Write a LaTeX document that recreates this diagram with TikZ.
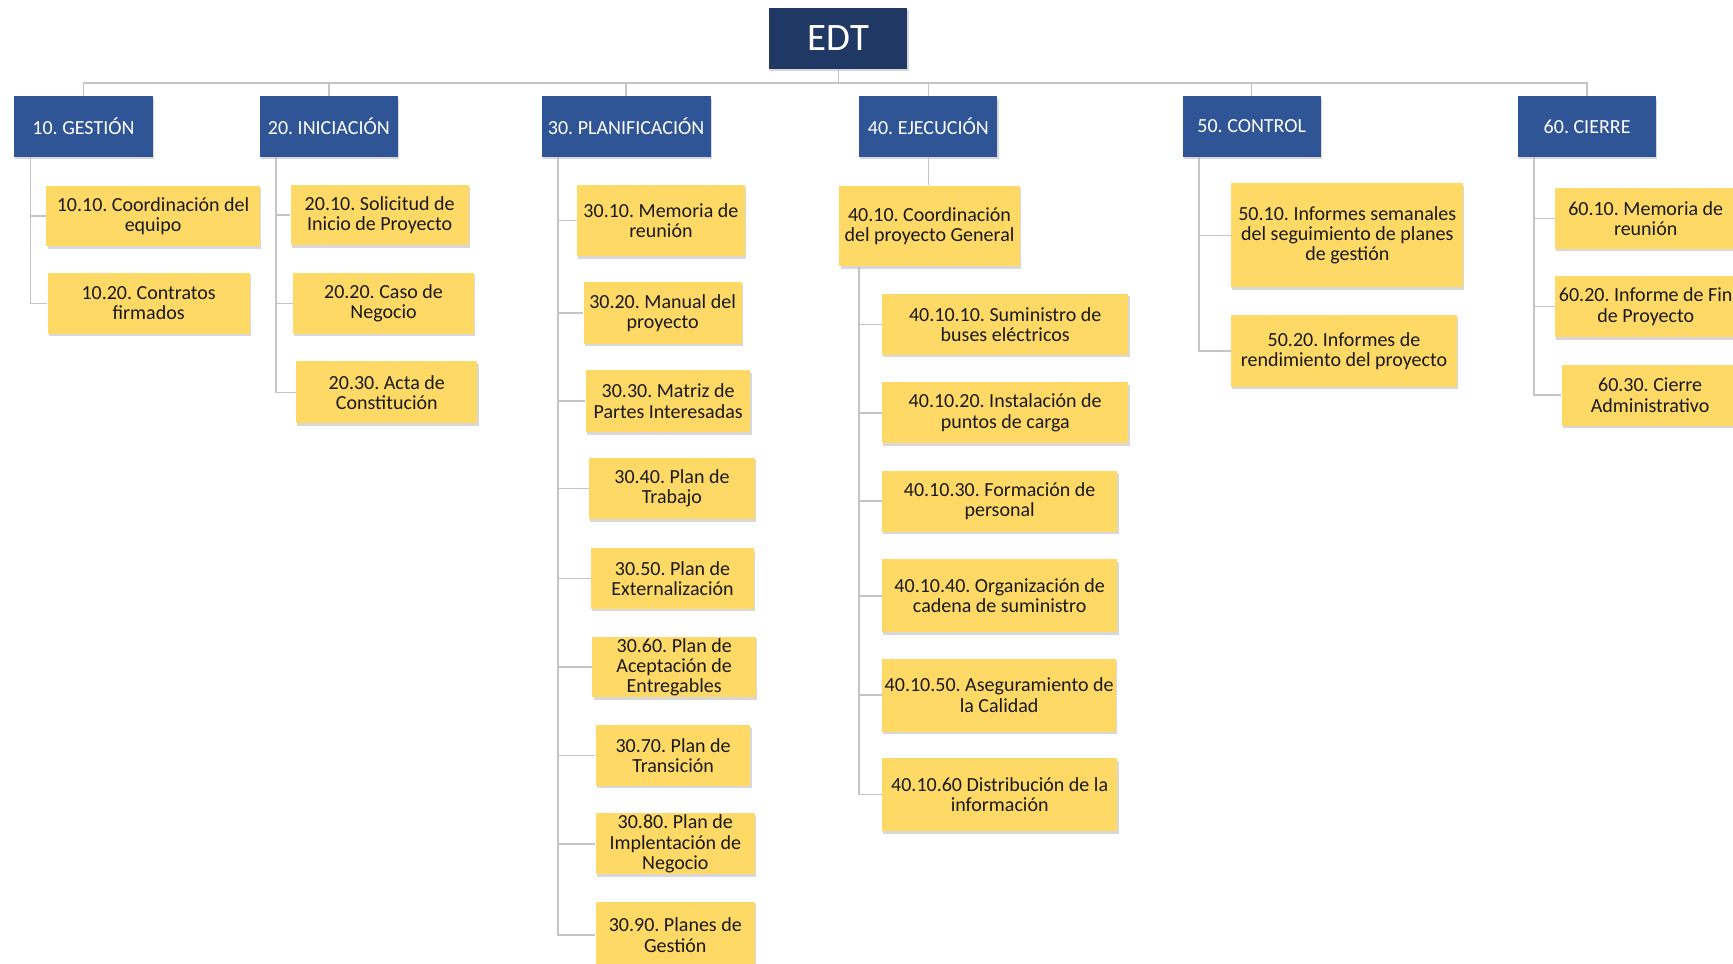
\documentclass[tikz,border=0pt]{standalone}
\usepackage{fontspec}
\setmainfont{Carlito}
\usetikzlibrary{shadows}
\definecolor{edtnavy}{HTML}{203864}
\definecolor{phaseblue}{HTML}{2F5597}
\definecolor{taskgold}{HTML}{FFD966}
\definecolor{linkgray}{HTML}{C4C4C4}
\newcommand{\leaf}[6]{\node[task,minimum width=#4cm,minimum height=#5cm] (#1) at (#2,#3) {#6};}

\begin{document}
\frenchspacing
\begin{tikzpicture}[font=\fontsize{10.3}{10.4}\selectfont,
  link/.style={linkgray,line width=.8pt},
  box/.style={inner xsep=1pt,inner ysep=0pt,align=center,
    drop shadow={shadow xshift=.02cm,shadow yshift=-.045cm,opacity=.3}},
  phase/.style={box,fill=phaseblue,text=white,minimum width=2.5cm,minimum height=1.1cm},
  task/.style={box,fill=taskgold,text=black!90}]
  \useasboundingbox[fill=white] (0,0) rectangle (31.36,-17.44);
  % root and phases
  \node[box,fill=edtnavy,text=white,font=\fontsize{20}{20}\selectfont,
    minimum width=2.5cm,minimum height=1.1cm] (edt) at (15.17,-.69) {EDT};
  \node[phase] (g10) at (1.51,-2.29) {10. GESTIÓN};
  \node[phase] (g20) at (5.95,-2.29) {20. INICIACIÓN};
  \node[phase,minimum width=3.06cm] (g30) at (11.33,-2.29) {30. PLANIFICACIÓN};
  \node[phase] (g40) at (16.8,-2.29) {40. EJECUCIÓN};
  \node[phase] (g50) at (22.65,-2.29) {50. CONTROL};
  \node[phase] (g60) at (28.72,-2.29) {60. CIERRE};
  \coordinate (bus) at (0,-1.5);
  % work packages
  \leaf{a1010}{2.77}{-3.91}{3.86}{1.1}{10.10. Coordinación del\\equipo}
  \leaf{a1020}{2.69}{-5.49}{3.66}{1.1}{10.20. Contratos\\firmados}
  \leaf{b2010}{6.87}{-3.89}{3.22}{1.1}{20.10. Solicitud de\\Inicio de Proyecto}
  \leaf{b2020}{6.94}{-5.49}{3.28}{1.1}{20.20. Caso de\\Negocio}
  \leaf{b2030}{7.0}{-7.1}{3.28}{1.12}{20.30. Acta de\\Constitución}
  \leaf{c3010}{11.96}{-3.99}{3.04}{1.3}{30.10. Memoria de\\reunión}
  \leaf{c3020}{11.99}{-5.66}{2.86}{1.12}{30.20. Manual del\\proyecto}
  \leaf{c3030}{12.09}{-7.26}{2.98}{1.12}{30.30. Matriz de\\Partes Interesadas}
  \leaf{c3040}{12.16}{-8.84}{3.0}{1.12}{30.40. Plan de\\Trabajo}
  \leaf{c3050}{12.17}{-10.47}{2.94}{1.1}{30.50. Plan de\\Externalización}
  \leaf{c3060}{12.2}{-12.07}{2.96}{1.1}{30.60. Plan de\\Aceptación de\\Entregables}
  \leaf{c3070}{12.18}{-13.67}{2.8}{1.1}{30.70. Plan de\\Transición}
  \leaf{c3080}{12.22}{-15.27}{2.88}{1.1}{30.80. Plan de\\Implentación de\\Negocio}
  \leaf{c3090}{12.22}{-16.92}{2.88}{1.2}{30.90. Planes de\\Gestión}
  \leaf{d4010}{16.82}{-4.09}{3.26}{1.46}{40.10. Coordinación\\del proyecto General}
  \leaf{d401010}{18.19}{-5.87}{4.46}{1.1}{40.10.10. Suministro de\\buses eléctricos}
  \leaf{d401020}{18.19}{-7.47}{4.46}{1.1}{40.10.20. Instalación de\\puntos de carga}
  \leaf{d401030}{18.09}{-9.07}{4.26}{1.1}{40.10.30. Formación de\\personal}
  \leaf{d401040}{18.09}{-10.78}{4.26}{1.32}{40.10.40. Organización de\\cadena de suministro}
  \leaf{d401050}{18.08}{-12.58}{4.24}{1.32}{40.10.50. Aseguramiento de\\la Calidad}
  \leaf{d401060}{18.09}{-14.38}{4.26}{1.32}{40.10.60 Distribución de la\\información}
  \leaf{e5010}{24.38}{-4.26}{4.2}{1.88}{50.10. Informes semanales\\del seguimiento de planes\\de gestión}
  \leaf{e5020}{24.32}{-6.35}{4.08}{1.3}{50.20. Informes de\\rendimiento del proyecto}
  \leaf{f6010}{29.78}{-3.95}{3.28}{1.1}{60.10. Memoria de\\reunión}
  \leaf{f6020}{29.78}{-5.55}{3.28}{1.1}{60.20. Informe de Fin\\de Proyecto}
  \leaf{f6030}{29.86}{-7.15}{3.2}{1.1}{60.30. Cierre\\Administrativo}
  % connectors
  \draw[link] (edt.south) -- (edt.south |- bus);
  \foreach \g in {g10,g20,g30,g40,g50,g60} \draw[link] (edt.south |- bus) -| (\g.north);
  \draw[link] (g40.south) -- (g40.south |- d4010.north);
  \foreach \p/\c in {g10/a1010,g10/a1020,g20/b2010,g20/b2020,g20/b2030,
    g30/c3010,g30/c3020,g30/c3030,g30/c3040,g30/c3050,g30/c3060,g30/c3070,g30/c3080,g30/c3090,
    g50/e5010,g50/e5020,g60/f6010,g60/f6020,g60/f6030}
    \draw[link] ([xshift=.3cm]\p.south west) |- (\c.west);
  \foreach \c in {d401010,d401020,d401030,d401040,d401050,d401060}
    \draw[link] ([xshift=.36cm]d4010.south west) |- (\c.west);
\end{tikzpicture}
\end{document}
